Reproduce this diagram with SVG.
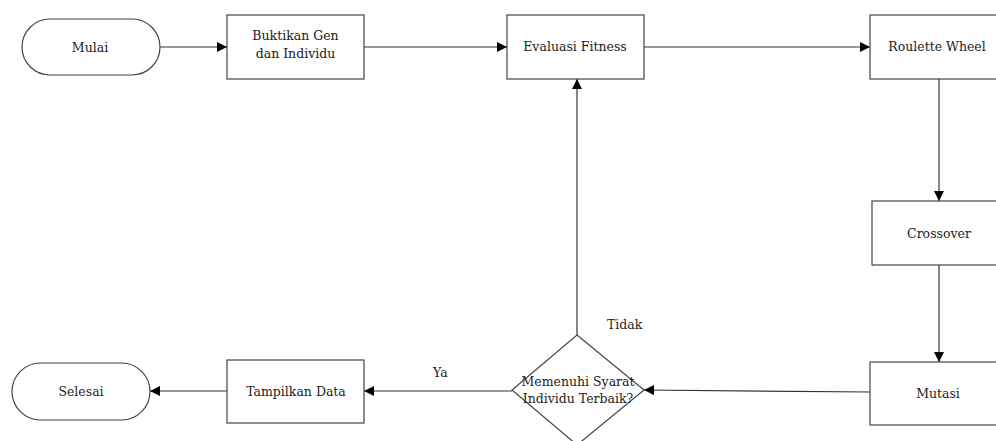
<svg xmlns="http://www.w3.org/2000/svg" width="996" height="441" viewBox="0 0 996 441">
<defs>
<marker id="ah" viewBox="0 0 10 10" refX="10" refY="5" markerWidth="10" markerHeight="10" markerUnits="userSpaceOnUse" orient="auto">
<path d="M0,0 L10,5 L0,10 z" fill="#000"/>
</marker>
</defs>
<style>
.s{fill:#fff;stroke:#444;stroke-width:1.2}
.c{fill:none;stroke:#333;stroke-width:1.2;marker-end:url(#ah)}
text{font-family:'DejaVu Serif','Liberation Serif','Times New Roman',serif;font-size:12.5px;fill:#222}
.t{text-anchor:middle}
</style>
<rect width="996" height="441" fill="#fff"/>
<g id="connectors">
<line class="c" x1="160" y1="47" x2="227" y2="47"/>
<line class="c" x1="364" y1="47" x2="507" y2="47"/>
<line class="c" x1="644" y1="47" x2="870" y2="47"/>
<line class="c" x1="939" y1="79" x2="939" y2="201"/>
<line class="c" x1="939" y1="265" x2="939" y2="362"/>
<line class="c" x1="870" y1="392" x2="644" y2="390"/>
<line class="c" x1="577" y1="335" x2="577" y2="79"/>
<line class="c" x1="512" y1="391" x2="364" y2="391"/>
<line class="c" x1="227" y1="391" x2="150" y2="391"/>
<text x="607" y="329">Tidak</text>
<text x="433" y="377">Ya</text>
</g>
<g id="mulai"><rect class="s" x="22" y="19" width="138" height="56" rx="28"/><text class="t" x="90" y="52">Mulai</text></g>
<g id="buktikan"><rect class="s" x="227" y="15" width="137" height="64"/><text class="t" x="295.5" y="40">Buktikan Gen</text><text class="t" x="295.5" y="58">dan Individu</text></g>
<g id="evaluasi"><rect class="s" x="507" y="15" width="137" height="64"/><text class="t" x="575" y="51">Evaluasi Fitness</text></g>
<g id="roulette"><rect class="s" x="870" y="15" width="137" height="64"/><text class="t" x="937" y="51">Roulette Wheel</text></g>
<g id="crossover"><rect class="s" x="872" y="201" width="137" height="64"/><text class="t" x="939" y="238">Crossover</text></g>
<g id="mutasi"><rect class="s" x="870" y="362" width="137" height="63"/><text class="t" x="938" y="398">Mutasi</text></g>
<g id="decision"><polygon class="s" points="577,335 644,390 577,445 512,390"/><text class="t" x="578" y="386">Memenuhi Syarat</text><text class="t" x="578" y="403">Individu Terbaik?</text></g>
<g id="tampilkan"><rect class="s" x="227" y="360" width="137" height="63"/><text class="t" x="296" y="396">Tampilkan Data</text></g>
<g id="selesai"><rect class="s" x="12" y="363" width="138" height="57" rx="28.5"/><text class="t" x="81" y="396">Selesai</text></g>
</svg>
